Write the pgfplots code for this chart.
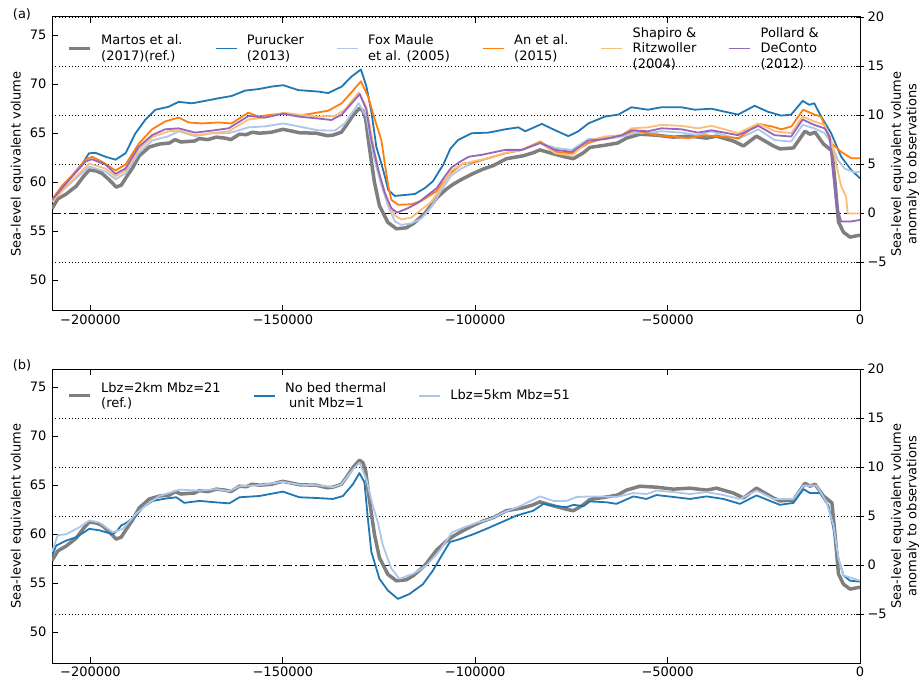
\documentclass[border=0pt]{standalone}
\usepackage{fontspec}
\setmainfont{DejaVu Sans}
\usepackage{pgfplots}
\usepackage{pgfplotstable}
\pgfplotsset{compat=1.18}

\definecolor{cgrey}{HTML}{7F7F7F}
\definecolor{cblue}{HTML}{1F77B4}
\definecolor{clblue}{HTML}{AEC7E8}
\definecolor{corange}{HTML}{FF7F0E}
\definecolor{clorange}{HTML}{FFBB78}
\definecolor{cpurple}{HTML}{9467BD}

\newcommand\tf{\fontsize{13}{15.6}\selectfont}

\pgfplotsset{
  common/.style={
    width=808pt, height=294pt, scale only axis, anchor=south west,
    xmin=-210000, xmax=0, scaled x ticks=false, scaled y ticks=false,
    tick label style={font=\tf},
    axis line style={black, line width=1pt},
    tick style={black, line width=0.8pt},
  },
  rightax/.style={
    common,
    ymin=-10, ymax=20,
    axis x line=none, axis y line*=right,
    ytick={-5,5,10,15,20}, yticklabels={−5,5,10,15,20},
    extra y ticks={0}, extra y tick labels={0},
    ymajorgrids,
    major grid style={black, line width=0.7pt, dash pattern=on 0.7pt off 2.6pt},
    extra y tick style={major grid style={black, line width=0.9pt, dash pattern=on 9pt off 3pt on 1.5pt off 3pt}},
    tick align=center, major tick length=8pt,
    ylabel={Sea-level equivalent volume\\anomaly to observations},
    every axis y label/.style={at={(axis description cs:1.0557,0.5)}, rotate=90, anchor=center, align=center, font=\tf},
  },
  leftax/.style={
    common,
    ymin=46.86, ymax=76.86,
    xtick={-200000,-150000,-100000,-50000,0},
    xticklabels={−200000,−150000,−100000,−50000,0},
    ytick={50,55,60,65,70,75}, yticklabels={50,55,60,65,70,75},
    yticklabel style={xshift=-2pt},
    ytick pos=left, tick align=inside, major tick length=6pt,
    ylabel={Sea-level equivalent volume},
    every axis y label/.style={at={(axis description cs:-0.0433,0.5)}, rotate=90, anchor=center, font=\tf},
    legend cell align=left,
    legend image code/.code={\draw[#1] (0pt,0pt) -- (21pt,0pt);},
    legend style={draw=none, fill=none, font=\tf, cells={align=left},
      at={(axis description cs:0,1)}, anchor=north west, inner sep=0pt,
      /tikz/every odd column/.append style={column sep=7.5pt},
      /tikz/every even column/.append style={column sep=30pt}},
  },
}

% reference run (Martos et al. 2017), shown in both panels
\pgfplotstableread{
x y
-210000 57.3
-208500 58.3
-206300 58.8
-203700 59.6
-201800 60.6
-200300 61.25
-198500 61.15
-197000 60.9
-195000 60.2
-193300 59.5
-192000 59.7
-190700 60.5
-189000 61.5
-187300 62.7
-184700 63.6
-182000 63.9
-179500 64.0
-178000 64.35
-176500 64.1
-175000 64.15
-173000 64.2
-171700 64.45
-169500 64.35
-167300 64.6
-165000 64.5
-163500 64.35
-161300 64.9
-159500 64.85
-158000 65.1
-156000 65.0
-153000 65.1
-150000 65.4
-147500 65.2
-145700 65.05
-141300 65.0
-138500 64.75
-137000 64.8
-134800 65.1
-133500 65.8
-131800 66.8
-130100 67.55
-129200 67.3
-128500 66.5
-127500 63.5
-126200 60.0
-124900 57.6
-122700 55.9
-120500 55.25
-117900 55.35
-116000 55.8
-113000 56.86
-110000 58.4
-107500 59.3
-105700 59.8
-103500 60.3
-100500 60.9
-97900 61.35
-95300 61.7
-91900 62.4
-87500 62.7
-85000 63.0
-83200 63.3
-79700 62.9
-76300 62.55
-74500 62.4
-71900 63.0
-70200 63.55
-65900 63.8
-63000 64.0
-60700 64.5
-57200 64.9
-52900 64.8
-48500 64.6
-44200 64.7
-39900 64.5
-37300 64.7
-32900 64.2
-30300 63.7
-26900 64.7
-22500 63.7
-20800 63.4
-17300 63.5
-14300 65.2
-13000 64.9
-11700 65.1
-9500 63.9
-7300 63.2
-6500 60.0
-5600 55.95
-4300 54.9
-2600 54.4
0 54.6
}\refdata

\begin{document}
\begin{tikzpicture}
\useasboundingbox (0,0) rectangle (920pt,683pt);

% ---------- panel (a)
\begin{axis}[rightax, at={(52pt,372pt)}]
\end{axis}
\begin{axis}[leftax, at={(52pt,372pt)},
  legend columns=6, legend style={xshift=15pt, yshift=-8pt}]
\addplot[cgrey, line width=3.5pt, line join=round] table {\refdata};
\addlegendentry{Martos et al.\\(2017)(ref.)}
\addplot[cblue, line width=1.8pt, line join=round] coordinates {
(-210000,58.2) (-207300,59.55) (-204700,60.7) (-202100,61.9) (-200400,62.95) (-198700,63.0)
(-196100,62.6) (-193500,62.3) (-190900,62.95) (-188300,65.0) (-185700,66.4) (-183100,67.4)
(-179700,67.7) (-177100,68.2) (-173600,68.05) (-170200,68.3) (-166700,68.57) (-163300,68.8)
(-159800,69.35) (-156400,69.5) (-152900,69.76) (-149900,69.9) (-146000,69.4) (-140800,69.25)
(-138200,69.1) (-134700,69.76) (-132100,70.8) (-129700,71.5) (-128300,69.8) (-127000,67.2)
(-125700,63.6) (-124400,61.9) (-123500,60.6) (-122600,59.2) (-120900,58.6) (-118300,58.7)
(-115700,58.8) (-113100,59.4) (-111000,60.1) (-108300,61.8) (-106500,63.4) (-104500,64.3)
(-100900,65.0) (-96600,65.06) (-92200,65.4) (-88800,65.6) (-87000,65.2) (-82700,65.95)
(-79200,65.3) (-75800,64.7) (-73200,65.2) (-70600,66.0) (-66300,66.7) (-62800,66.9)
(-59400,67.65) (-55100,67.4) (-51600,67.65) (-46400,67.65) (-43000,67.4) (-38600,67.5)
(-35200,67.2) (-31700,66.9) (-27400,67.8) (-24000,67.2) (-20500,66.8) (-17900,66.9)
(-14900,68.3) (-13200,67.9) (-11900,68.06) (-10100,66.7) (-7500,65.0) (-4900,62.6)
(-2300,61.26) (0,60.4)};
\addlegendentry{Purucker\\(2013)}
\addplot[clblue, line width=1.8pt, line join=round] coordinates {
(-210000,58.2) (-204700,60.06) (-200400,61.6) (-196100,61.1) (-193500,60.3) (-190900,60.9)
(-187500,62.95) (-184000,64.25) (-179700,64.7) (-177100,65.2) (-172800,64.7) (-168400,65.0)
(-164100,65.0) (-158900,65.6) (-154600,65.7) (-149900,66.0) (-146000,65.7) (-140800,65.3)
(-136500,65.27) (-133900,66.0) (-130300,68.06) (-128300,66.7) (-126600,62.95) (-124800,60.2)
(-122600,57.5) (-120900,56.0) (-119200,55.65) (-116600,55.8) (-114000,56.3) (-111400,57.5)
(-108800,59.2) (-106200,60.7) (-103600,61.4) (-100900,61.9) (-96600,62.45) (-92200,62.96)
(-87900,63.3) (-83100,64.0) (-79200,63.5) (-74900,63.3) (-70600,64.4) (-66300,64.4)
(-61900,64.66) (-58500,65.06) (-55100,65.0) (-51600,65.2) (-46400,65.06) (-42100,64.8)
(-38600,65.2) (-35200,64.8) (-31700,64.4) (-26400,65.4) (-22200,64.3) (-17900,64.15)
(-14900,65.85) (-11900,65.5) (-9200,65.0) (-7500,64.0) (-5800,62.3) (-4000,61.4)
(-1400,61.0) (0,61.1)};
\addlegendentry{Fox Maule\\et al. (2005)}
\addplot[corange, line width=1.8pt, line join=round] coordinates {
(-210000,58.2) (-207300,59.7) (-204700,60.7) (-201300,62.3) (-199600,62.6) (-197000,62.1)
(-193500,61.2) (-190900,61.8) (-187500,63.9) (-184000,65.4) (-180600,66.2) (-177100,66.6)
(-174500,66.1) (-171100,66.0) (-166700,66.1) (-163300,66.0) (-159000,67.1) (-156400,66.7)
(-152900,66.9) (-149500,67.0) (-146000,66.8) (-142600,67.0) (-138200,67.3) (-134700,68.06)
(-132100,69.2) (-129700,70.3) (-127800,68.7) (-126100,66.4) (-124400,64.3) (-123500,61.9)
(-122600,59.6) (-121800,58.2) (-120000,57.7) (-116600,57.75) (-114000,58.1) (-110000,59.1)
(-106500,60.9) (-103300,61.9) (-100900,62.0) (-96600,62.45) (-92200,62.96)
(-87900,63.3) (-83100,64.15) (-79200,63.1) (-74900,62.96) (-70600,64.0) (-66300,64.5)
(-61900,64.8) (-58500,65.3) (-53200,64.8) (-48900,64.66) (-44600,64.5) (-40300,64.8)
(-35900,64.66) (-31600,64.5) (-26400,65.95) (-23000,65.7) (-20400,65.4) (-17800,65.7)
(-14800,67.4) (-11800,66.9) (-10100,66.7) (-7500,64.0) (-4900,63.1) (-2300,62.45) (0,62.45)};
\addlegendentry{An et al.\\(2015)}
\addplot[clorange, line width=1.8pt, line join=round] coordinates {
(-210000,58.0) (-204700,60.2) (-200400,61.9) (-196100,61.4) (-193500,60.6) (-190900,61.2)
(-187500,63.3) (-184000,64.6) (-179700,65.2) (-177100,65.27) (-172800,64.8) (-168400,65.0)
(-164100,65.2) (-158900,66.4) (-154600,66.6) (-149900,67.1) (-146000,66.9) (-140800,66.7)
(-136500,66.76) (-133900,67.4) (-130300,69.15) (-128300,67.7) (-126600,64.0) (-124800,60.6)
(-122600,57.85) (-120900,56.6) (-119200,56.2) (-116600,56.4) (-114000,57.2) (-111400,58.0)
(-108800,59.5) (-106200,61.2) (-103600,61.8) (-100900,62.1) (-96600,62.45) (-92200,63.0)
(-87900,63.3) (-83100,64.05) (-79200,62.96) (-74900,62.7) (-70600,64.25) (-66300,64.66)
(-61900,64.8) (-59400,65.5) (-55100,65.6) (-51600,65.85) (-46400,65.75) (-42100,65.5)
(-38600,65.75) (-35200,65.4) (-31700,65.0) (-26400,66.0) (-22200,65.2) (-17900,65.0)
(-14900,66.7) (-11900,66.2) (-9200,65.85) (-7500,64.3) (-6200,61.9) (-4900,59.6)
(-3600,58.5) (-3200,56.8) (0,56.8)};
\addlegendentry{Shapiro \&\\Ritzwoller\\(2004)}
\addplot[cpurple, line width=1.8pt, line join=round] coordinates {
(-210000,58.2) (-204700,60.6) (-201300,62.1) (-199600,62.35) (-196100,61.8) (-193500,60.85)
(-190900,61.4) (-187500,63.6) (-184000,64.8) (-180600,65.4) (-177100,65.5) (-172800,65.06)
(-168400,65.27) (-164100,65.5) (-158900,66.76) (-154600,66.6) (-149900,67.0) (-146000,66.7)
(-140800,66.5) (-137400,66.35) (-134700,66.9) (-132100,68.06) (-130000,69.0) (-128300,67.4)
(-127000,64.3) (-125200,61.25) (-123500,58.9) (-121800,57.35) (-120300,56.9) (-117500,57.35)
(-114900,57.9) (-110000,59.4) (-107900,60.6) (-106200,61.5) (-103900,62.1) (-101700,62.6)
(-98300,62.8) (-92200,63.3) (-87900,63.3) (-83100,64.0) (-79200,63.3) (-74900,63.1)
(-70600,64.25) (-66300,64.4) (-61900,64.8) (-59400,65.3) (-55100,65.2) (-51600,65.5)
(-46400,65.4) (-42100,65.06) (-38600,65.3) (-35200,65.06) (-31700,64.8) (-26400,65.75)
(-22200,64.8) (-17900,64.66) (-14900,66.4) (-11900,65.85) (-9200,65.5) (-7900,64.66)
(-7100,61.26) (-6200,57.85) (-4900,56.0) (-2300,56.0) (0,56.15)};
\addlegendentry{Pollard \&\\DeConto\\(2012)}
\end{axis}
\node[font=\tf] at (22pt,669pt) {(a)};

% ---------- panel (b)
\begin{axis}[rightax, at={(52pt,20pt)}]
\end{axis}
\begin{axis}[leftax, at={(52pt,20pt)},
  legend columns=3, legend style={xshift=15pt, yshift=-11pt}]
\addplot[cgrey, line width=3.5pt, line join=round] table {\refdata};
\addlegendentry{Lbz=2km Mbz=21\\(ref.)}
\addplot[cblue, line width=1.8pt, line join=round] coordinates {
(-210000,57.8) (-208900,58.85) (-206300,59.35) (-203700,59.7) (-200300,60.55) (-197700,60.4)
(-194200,60.0) (-193000,60.4) (-192000,60.9) (-190700,61.15) (-188100,61.9) (-186400,62.75)
(-183800,63.4) (-180300,63.65) (-177700,63.77) (-175600,63.2) (-171700,63.4) (-167300,63.25)
(-163900,63.15) (-161300,63.77) (-156100,63.9) (-150000,64.35) (-145700,63.77) (-141300,63.7)
(-137000,63.6) (-134400,63.9) (-131800,65.1) (-130100,66.24) (-128800,65.3) (-127900,61.56)
(-127000,58.2) (-124900,55.45) (-122700,54.26) (-120100,53.4) (-117100,53.9) (-113600,54.9)
(-111000,56.3) (-109200,57.5) (-106600,59.2) (-104000,59.5) (-100500,60.0) (-97100,60.55)
(-93600,61.15) (-89300,61.9) (-84900,62.4) (-82300,63.1) (-78900,62.86) (-76300,62.76)
(-74500,63.0) (-71900,62.86) (-70200,63.35) (-65900,63.26) (-63300,63.1) (-58900,63.86)
(-55500,63.6) (-52900,64.0) (-48500,63.8) (-44200,63.6) (-39900,63.86) (-35500,63.6)
(-31200,63.1) (-26900,63.96) (-22500,63.26) (-20800,63.0) (-17300,63.2) (-14700,64.6)
(-13000,64.2) (-10400,64.2) (-8200,62.9) (-6900,60.55) (-5600,57.5) (-4300,55.8)
(-2600,55.26) (0,55.16)};
\addlegendentry{No bed thermal\\\ unit Mbz=1}
\addplot[clblue, line width=1.8pt, line join=round] coordinates {
(-210000,58.2) (-208500,59.9) (-206300,60.0) (-202900,60.7) (-200300,61.4) (-197700,61.2)
(-194200,60.2) (-191600,60.55) (-188100,62.1) (-185500,63.0) (-182100,63.9) (-176900,64.55)
(-171700,64.45) (-167300,64.6) (-163900,64.4) (-161300,64.9) (-156000,65.0) (-150000,65.35)
(-145700,65.05) (-141300,65.0) (-137000,64.8) (-134800,65.1) (-131800,66.6) (-130100,67.3)
(-128300,65.6) (-126600,62.9) (-125300,61.2) (-124000,58.85) (-121800,56.5) (-119700,55.45)
(-116200,55.96) (-112700,56.8) (-109300,58.3) (-106000,60.2) (-102900,60.7) (-99400,61.2)
(-96000,61.56) (-92500,62.25) (-88400,62.86) (-83200,63.86) (-79700,63.4) (-76300,63.4)
(-73700,63.8) (-70200,63.86) (-67600,63.86) (-63300,63.8) (-58900,64.2) (-55500,64.1)
(-52900,64.46) (-48500,64.3) (-44200,64.1) (-39900,64.3) (-35500,64.0) (-31200,63.6)
(-26900,64.46) (-22500,63.6) (-17300,63.6) (-14700,64.96) (-11300,64.96) (-8700,63.26)
(-6900,60.9) (-5600,57.5) (-4300,55.8) (0,55.26)};
\addlegendentry{Lbz=5km Mbz=51}
\end{axis}
\node[font=\tf] at (22pt,318pt) {(b)};
\end{tikzpicture}
\end{document}
